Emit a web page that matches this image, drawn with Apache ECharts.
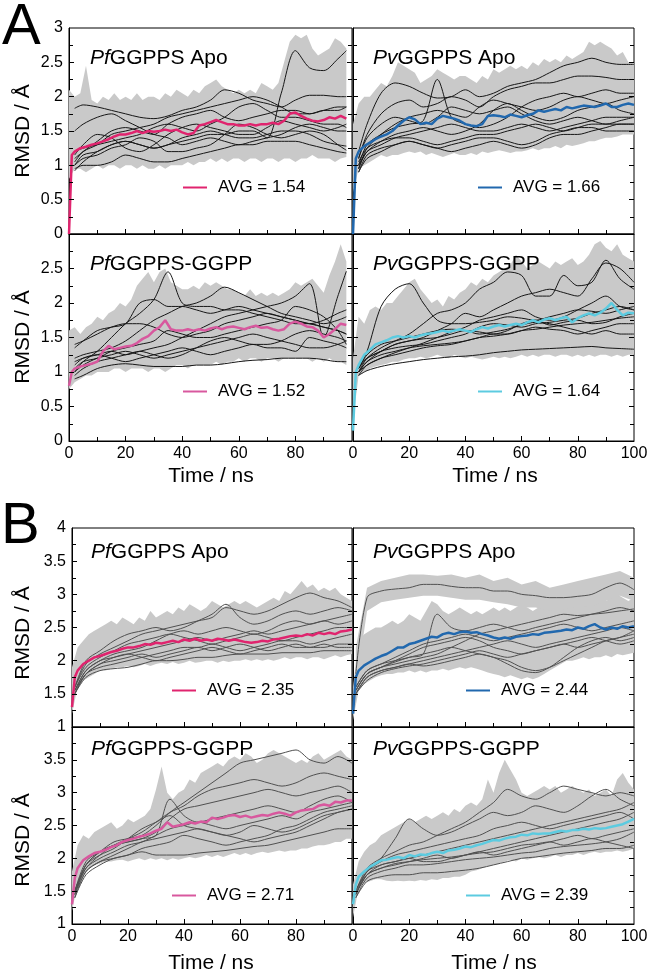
<!DOCTYPE html>
<html>
<head>
<meta charset="utf-8">
<script src="https://cdn.jsdelivr.net/npm/echarts@6.0.0/dist/echarts.min.js"></script>
<style>
html,body{margin:0;padding:0;background:#fff}
#chart{width:654px;height:975px}
</style>
</head>
<body>
<div id="chart"></div>
<script>
var FONT = '"Liberation Sans", Arial, sans-serif';
var GRAY = '#c9c9c9';

// tick positions
var xTicks = [0,10,20,30,40,50,60,70,80,90,100];
var yTicksA = [0,0.25,0.5,0.75,1,1.25,1.5,1.75,2,2.25,2.5,2.75,3];
var yTicksB = [1,1.25,1.5,1.75,2,2.25,2.5,2.75,3,3.25,3.5,3.75,4];

// time grids (ns)
var tLineA = [2,5,10,15,20,25,30,35,40,45,50,55,60,65,70,75,80,85,90,95,98];
var tLineA2 = [2,5,10,15,20,25,30,35,40,45,50,55,60,65,70,75,80,85,90,95,100];
var tLineB = [1,5,10,15,20,25,30,35,40,45,50,55,60,65,70,75,80,85,90,95,100];
var tAvg98 = [0,1], tAvg100 = [0,1], tBand98 = [], tBand100 = [];
for (var t = 2; t <= 98; t += 2) tAvg98.push(t);
for (var t = 2; t <= 100; t += 2) tAvg100.push(t);
for (var t = 0; t <= 98; t += 2) tBand98.push(t);
for (var t = 0; t <= 100; t += 2) tBand100.push(t);

// ---------- A: PfGGPPS Apo ----------
var a1Avg = [0,1.15,1.2,1.25,1.27,1.3,1.32,1.35,1.38,1.42, 1.45,1.45,1.47,1.5,1.47,1.5,1.49,1.5,1.52,1.5, 1.52,1.48,1.45,1.47,1.58,1.6,1.63,1.66,1.63,1.6, 1.6,1.58,1.58,1.6,1.58,1.6,1.6,1.62,1.6,1.65, 1.75,1.77,1.72,1.68,1.65,1.64,1.66,1.7,1.68,1.72, 1.68];
var a1Hi = [2.1,2.0,2.05,2.45,1.95,1.9,2.0,1.95,2.05,1.95, 2.0,1.95,2.05,1.95,2.0,2.0,1.95,2.05,2.0,2.1, 2.05,2.0,2.1,2.05,2.15,2.2,2.25,2.15,2.1,2.05, 2.1,2.05,2.1,2.05,2.2,2.15,2.1,2.2,2.5,2.8, 2.9,2.85,2.9,2.7,2.6,2.65,2.7,2.85,2.8,2.7];
var a1Lo = [0.8,0.95,0.95,0.9,0.95,1.0,0.95,1.0,1.0,0.95, 1.0,1.0,0.95,1.0,0.95,0.95,1.0,0.95,1.0,1.0, 1.0,1.05,1.0,1.05,1.05,1.1,1.05,1.1,1.05,1.1, 1.1,1.05,1.1,1.1,1.05,1.1,1.1,1.05,1.1,1.1, 1.05,1.1,1.1,1.15,1.1,1.1,1.1,1.05,1.1,1.12];
var a1Lines = [
  [1.83,1.88,1.85,1.8,1.75,1.7,1.68,1.72,1.8,1.85,1.95,2.1,2.05,1.95,1.9,1.85,1.95,2.02,2.02,2.0,2.0],
  [1.0,1.15,1.2,1.3,1.35,1.3,1.25,1.3,1.35,1.4,1.45,1.45,1.5,1.5,1.4,2.05,2.67,2.42,2.38,2.55,2.67],
  [0.95,1.0,1.0,1.05,1.15,1.1,1.05,1.05,1.1,1.15,1.2,1.25,1.3,1.3,1.35,1.35,1.35,1.3,1.25,1.2,1.18],
  [1.1,1.2,1.35,1.5,1.55,1.5,1.45,1.6,1.7,1.75,1.8,1.7,1.65,1.7,1.75,1.8,1.8,1.75,1.8,1.85,1.85],
  [1.5,1.6,1.7,1.75,1.65,1.55,1.45,1.4,1.3,1.35,1.4,1.35,1.3,1.35,1.4,1.45,1.55,1.6,1.55,1.5,1.5],
  [1.0,1.1,1.15,1.25,1.3,1.4,1.35,1.2,1.2,1.25,1.3,1.45,1.6,1.55,1.45,1.4,1.45,1.5,1.45,1.3,1.22],
  [1.2,1.25,1.3,1.35,1.4,1.45,1.55,1.6,1.55,1.5,1.6,1.7,1.85,1.9,1.8,1.7,1.7,1.65,1.6,1.6,1.55],
  [1.15,1.3,1.45,1.4,1.25,1.2,1.3,1.45,1.55,1.6,1.55,1.5,1.45,1.45,1.55,1.65,1.6,1.55,1.5,1.55,1.6],
  [0.92,1.05,1.2,1.3,1.35,1.3,1.25,1.3,1.4,1.45,1.5,1.45,1.4,1.4,1.45,1.5,1.5,1.45,1.35,1.3,1.28],
  [1.05,1.2,1.3,1.45,1.5,1.55,1.6,1.7,1.75,1.8,1.85,1.9,1.95,2.0,1.95,1.85,1.75,1.75,1.8,1.8,1.85]
];

// ---------- A: PvGGPPS Apo ----------
var a2Avg = [0,1.1,1.2,1.28,1.33,1.38,1.42,1.45,1.5,1.58, 1.65,1.7,1.67,1.6,1.62,1.6,1.68,1.72,1.7,1.68, 1.65,1.6,1.58,1.57,1.6,1.72,1.73,1.72,1.7,1.74, 1.72,1.7,1.73,1.75,1.8,1.78,1.8,1.82,1.8,1.85, 1.83,1.85,1.87,1.86,1.85,1.87,1.9,1.85,1.85,1.88, 1.9,1.88];
var a2Hi = [1.6,1.9,2.0,2.0,2.1,2.2,2.15,2.3,2.5,2.45, 2.4,2.35,2.2,2.25,2.3,2.4,2.35,2.3,2.25,2.3, 2.3,2.25,2.2,2.3,2.25,2.4,2.35,2.4,2.45,2.4, 2.45,2.4,2.5,2.45,2.55,2.5,2.55,2.5,2.6,2.55, 2.6,2.65,2.8,2.75,2.8,2.75,2.7,2.6,2.65,2.5, 2.5];
var a2Lo = [0.6,0.95,1.0,1.05,1.1,1.15,1.12,1.15,1.15,1.18, 1.2,1.18,1.2,1.15,1.18,1.15,1.12,1.15,1.18,1.15, 1.15,1.18,1.15,1.2,1.18,1.2,1.22,1.2,1.18,1.2, 1.2,1.22,1.25,1.22,1.25,1.25,1.28,1.25,1.3,1.28, 1.3,1.32,1.35,1.35,1.38,1.4,1.4,1.42,1.45,1.45, 1.45];
var a2Lines = [
  [1.2,1.6,2.05,2.2,2.15,2.05,1.98,2.0,2.1,2.0,2.05,2.15,2.2,2.25,2.35,2.45,2.5,2.56,2.5,2.47,2.47],
  [1.1,1.45,1.75,1.9,1.95,1.85,1.9,2.0,1.95,1.85,2.0,2.1,2.15,2.2,2.2,2.25,2.3,2.3,2.28,2.25,2.25],
  [1.0,1.3,1.45,1.55,1.6,1.65,2.25,1.7,1.6,1.55,1.6,1.7,1.85,1.95,2.0,2.05,2.0,2.05,2.1,2.05,2.05],
  [0.95,1.25,1.45,1.6,1.7,1.75,1.8,1.75,1.7,1.85,1.95,1.9,1.85,1.8,1.85,1.95,2.0,1.95,1.9,1.95,2.0],
  [1.0,1.2,1.35,1.45,1.5,1.55,1.5,1.45,1.5,1.6,1.8,1.9,1.8,1.7,1.65,1.7,1.8,1.85,1.9,1.8,1.75],
  [0.95,1.2,1.3,1.4,1.45,1.5,1.55,1.6,1.55,1.5,1.5,1.55,1.6,1.55,1.5,1.55,1.6,1.65,1.7,1.7,1.7],
  [1.05,1.25,1.35,1.4,1.4,1.35,1.3,1.35,1.4,1.45,1.45,1.5,1.55,1.6,1.55,1.5,1.55,1.6,1.6,1.6,1.6],
  [0.9,1.15,1.25,1.3,1.35,1.3,1.25,1.3,1.35,1.4,1.4,1.35,1.3,1.35,1.45,1.5,1.55,1.55,1.5,1.5,1.5],
  [0.9,1.1,1.2,1.3,1.35,1.3,1.25,1.2,1.25,1.3,1.35,1.3,1.25,1.3,1.4,1.45,1.45,1.5,1.55,1.6,1.6],
  [1.1,1.4,1.6,1.7,1.65,1.6,1.7,1.85,1.8,1.75,1.8,1.85,1.75,1.65,1.6,1.65,1.7,1.65,1.6,1.65,1.7]
];

// ---------- A: PfGGPPS-GGPP ----------
var a3Avg = [0.8,1.0,1.05,1.08,1.1,1.12,1.15,1.3,1.38,1.33, 1.35,1.37,1.38,1.42,1.48,1.52,1.6,1.65,1.75,1.62, 1.6,1.6,1.62,1.6,1.62,1.6,1.63,1.65,1.62,1.65, 1.66,1.64,1.62,1.65,1.67,1.64,1.65,1.62,1.6,1.62, 1.7,1.73,1.7,1.66,1.65,1.6,1.5,1.55,1.62,1.7, 1.68];
var a3Hi = [1.6,1.65,1.55,1.65,1.7,1.8,1.75,1.85,1.9,2.0, 1.95,2.05,2.25,2.35,2.45,2.3,2.45,2.5,2.3,2.25, 2.2,2.2,2.25,2.2,2.3,2.25,2.3,2.25,2.2,2.2, 2.15,2.1,2.2,2.1,2.15,2.1,2.15,2.1,2.15,2.2, 2.3,2.25,2.3,2.35,2.25,2.15,2.4,2.6,2.85,2.6];
var a3Lo = [0.75,0.85,0.9,0.95,0.95,1.0,1.0,1.0,1.05,1.05, 1.0,1.05,1.05,1.05,1.0,1.05,1.05,1.0,1.05,1.1, 1.1,1.05,1.1,1.1,1.1,1.1,1.15,1.1,1.15,1.15, 1.2,1.15,1.2,1.2,1.15,1.2,1.2,1.15,1.2,1.2, 1.2,1.2,1.2,1.15,1.2,1.15,1.2,1.15,1.15,1.1];
var a3Lines = [
  [1.0,1.15,1.3,1.5,1.7,1.85,2.05,2.45,2.0,1.95,1.95,1.9,1.9,1.85,1.8,1.75,1.7,1.7,1.65,1.6,1.55],
  [1.2,1.25,1.3,1.35,1.45,1.6,1.75,1.85,1.95,2.0,2.1,2.23,2.15,2.05,1.95,1.85,1.8,1.75,1.7,1.75,1.8],
  [1.15,1.2,1.25,1.3,1.25,1.3,1.35,1.4,1.5,1.6,1.7,1.8,1.85,1.9,1.95,2.0,2.1,2.28,1.5,2.1,2.46],
  [1.35,1.45,1.6,1.65,1.7,2.0,2.05,1.95,1.95,1.9,1.85,1.9,1.95,1.9,1.85,1.8,1.75,1.7,1.65,1.6,1.55],
  [1.4,1.45,1.55,1.65,1.7,1.7,1.65,1.55,1.5,1.55,1.6,1.7,1.75,1.8,1.85,1.8,1.75,1.7,1.75,1.85,1.9],
  [0.9,0.95,1.05,1.1,1.12,1.1,1.08,1.08,1.08,1.1,1.1,1.12,1.15,1.17,1.18,1.2,1.2,1.2,1.18,1.15,1.15],
  [1.0,1.1,1.2,1.25,1.3,1.25,1.2,1.25,1.3,1.35,1.4,1.45,1.5,1.55,1.5,1.45,1.4,1.35,1.35,1.4,1.45],
  [1.1,1.2,1.25,1.2,1.15,1.2,1.25,1.3,1.35,1.3,1.25,1.3,1.35,1.4,1.35,1.35,1.3,1.5,1.45,1.4,1.35],
  [0.95,1.05,1.15,1.2,1.25,1.3,1.25,1.2,1.25,1.35,1.45,1.5,1.45,1.4,1.4,1.45,1.55,1.6,1.55,1.5,1.45],
  [1.05,1.15,1.2,1.3,1.35,1.4,1.45,1.6,1.55,1.5,1.5,1.55,1.6,1.65,1.7,1.75,1.95,1.9,1.8,1.6,1.4]
];

// ---------- A: PvGGPPS-GGPP ----------
var a4Avg = [0.15,1.0,1.1,1.25,1.32,1.4,1.43,1.46,1.5,1.52, 1.5,1.52,1.5,1.53,1.55,1.56,1.58,1.6,1.58,1.6, 1.62,1.6,1.58,1.62,1.65,1.63,1.66,1.68,1.66,1.68, 1.7,1.68,1.72,1.75,1.72,1.76,1.78,1.75,1.78,1.8, 1.72,1.78,1.82,1.85,1.82,1.86,1.92,2.0,1.9,1.82, 1.86,1.85];
var a4Hi = [1.2,1.8,1.7,1.9,1.95,1.9,2.0,2.0,2.1,2.2, 2.3,2.35,2.2,2.1,2.0,2.05,1.95,2.1,2.05,2.15, 2.2,2.3,2.25,2.35,2.3,2.4,2.45,2.5,2.55,2.7, 2.6,2.5,2.55,2.6,2.55,2.5,2.6,2.55,2.6,2.65, 2.55,2.6,2.7,2.85,2.9,2.8,2.75,2.85,2.7,2.65, 2.6];
var a4Lo = [0.3,0.95,1.0,1.05,1.08,1.1,1.12,1.15,1.15,1.18, 1.2,1.2,1.22,1.2,1.22,1.25,1.22,1.2,1.25,1.22, 1.2,1.22,1.2,1.18,1.2,1.22,1.2,1.22,1.2,1.22, 1.25,1.22,1.25,1.22,1.25,1.25,1.22,1.25,1.25,1.22, 1.25,1.22,1.25,1.22,1.25,1.25,1.22,1.25,1.22,1.25, 1.25];
var a4Lines = [
  [1.05,1.3,1.95,2.2,2.28,2.0,1.75,1.7,1.7,1.72,1.75,1.8,1.78,1.75,1.8,1.85,1.9,1.88,1.85,1.9,1.95],
  [1.0,1.2,1.35,1.45,1.55,1.7,1.85,1.9,2.0,2.2,2.3,2.45,2.4,2.1,2.1,2.4,2.25,2.3,2.62,2.35,2.2],
  [1.0,1.15,1.3,1.4,1.45,1.5,1.6,1.7,1.85,1.8,1.9,2.0,2.1,2.15,2.2,2.15,2.1,2.35,2.58,2.5,2.3],
  [0.95,1.02,1.08,1.12,1.15,1.18,1.2,1.22,1.23,1.25,1.28,1.3,1.32,1.33,1.34,1.35,1.36,1.37,1.35,1.34,1.33],
  [1.1,1.2,1.3,1.35,1.38,1.4,1.45,1.5,1.55,1.65,1.7,1.68,1.65,1.7,1.72,1.75,1.78,1.85,1.9,1.95,1.9],
  [1.05,1.25,1.4,1.45,1.5,1.55,1.6,1.62,1.6,1.55,1.58,1.62,1.68,1.72,1.7,1.65,1.6,1.55,1.6,1.55,1.55],
  [1.0,1.15,1.25,1.3,1.35,1.38,1.4,1.42,1.45,1.5,1.52,1.55,1.6,1.62,1.65,1.68,1.7,1.72,1.75,1.78,1.8],
  [1.05,1.2,1.3,1.4,1.45,1.48,1.5,1.55,1.6,1.58,1.55,1.6,1.7,1.75,1.68,1.72,1.75,1.7,1.72,1.8,1.85],
  [1.0,1.1,1.2,1.28,1.35,1.42,1.5,1.58,1.65,1.75,1.8,1.85,1.9,1.8,1.75,1.8,1.9,2.0,2.1,1.95,1.9],
  [0.95,1.1,1.2,1.25,1.3,1.35,1.38,1.4,1.45,1.5,1.55,1.55,1.6,1.65,1.62,1.6,1.55,1.6,1.65,1.7,1.7]
];

// ---------- B: PfGGPPS Apo ----------
var b1Avg = [1.3,1.75,1.85,1.95,2.0,2.05,2.07,2.1,2.13,2.15, 2.18,2.2,2.2,2.22,2.25,2.24,2.27,2.26,2.28,2.3, 2.28,2.32,2.3,2.33,2.3,2.32,2.3,2.33,2.32,2.3, 2.32,2.3,2.28,2.27,2.28,2.3,2.29,2.32,2.33,2.35, 2.37,2.38,2.37,2.4,2.38,2.42,2.4,2.42,2.4,2.44, 2.45,2.47];
var b1Hi = [1.9,2.2,2.3,2.4,2.45,2.5,2.55,2.6,2.55,2.65, 2.6,2.55,2.65,2.6,2.75,2.65,2.7,2.75,2.7,2.8, 2.75,2.85,2.8,2.75,2.8,2.9,2.85,2.8,2.85,2.9, 2.85,2.9,2.85,2.8,2.85,2.9,2.95,2.9,3.05,3.0, 3.1,3.2,3.1,3.15,3.05,3.1,3.05,3.1,3.0,2.95, 2.9];
var b1Lo = [1.2,1.6,1.7,1.75,1.8,1.85,1.85,1.88,1.9,1.9, 1.92,1.9,1.92,1.95,1.92,1.95,1.97,1.95,1.98,1.95, 1.97,2.0,1.97,1.98,2.0,2.0,1.97,2.0,1.98,2.0, 2.0,2.02,2.0,2.02,2.0,2.02,2.0,2.02,2.05,2.02, 2.05,2.05,2.02,2.05,2.05,2.02,2.05,2.08,2.05,2.08, 2.1];
var b1Lines = [
  [1.6,1.95,2.1,2.2,2.3,2.4,2.45,2.5,2.55,2.6,2.65,2.8,2.75,2.7,2.75,2.85,2.95,3.02,2.95,2.9,2.8],
  [1.6,2.0,2.15,2.3,2.4,2.45,2.5,2.45,2.5,2.6,2.7,2.85,2.65,2.55,2.6,2.7,2.75,2.7,2.75,2.8,2.75],
  [1.55,1.85,2.0,2.1,2.15,2.2,2.3,2.4,2.45,2.4,2.45,2.5,2.45,2.4,2.45,2.55,2.6,2.55,2.6,2.55,2.6],
  [1.5,1.75,1.85,1.88,1.9,1.95,2.0,2.0,2.02,2.05,2.05,2.08,2.1,2.1,2.1,2.12,2.12,2.12,2.15,2.15,2.15],
  [1.55,1.8,1.95,2.0,2.05,2.1,2.05,2.1,2.15,2.2,2.15,2.2,2.25,2.2,2.15,2.2,2.25,2.2,2.2,2.25,2.25],
  [1.6,1.9,2.05,2.15,2.25,2.3,2.35,2.4,2.35,2.3,2.25,2.3,2.35,2.4,2.35,2.3,2.35,2.4,2.45,2.5,2.5],
  [1.5,1.8,1.9,1.95,2.0,2.05,2.1,2.15,2.2,2.2,2.25,2.2,2.15,2.2,2.25,2.3,2.3,2.25,2.3,2.35,2.4],
  [1.55,1.85,2.0,2.05,2.1,2.15,2.2,2.25,2.3,2.35,2.3,2.35,2.4,2.45,2.4,2.45,2.5,2.55,2.6,2.65,2.7],
  [1.5,1.8,1.95,2.05,2.1,2.05,2.0,2.05,2.1,2.15,2.2,2.15,2.1,2.15,2.2,2.25,2.2,2.2,2.25,2.2,2.2]
];

// ---------- B: PvGGPPS Apo ----------
var b2Avg = [1.2,1.75,1.85,1.93,1.98,2.03,2.07,2.1,2.15,2.2, 2.2,2.25,2.27,2.3,2.33,2.36,2.35,2.4,2.42,2.4, 2.43,2.44,2.42,2.43,2.4,2.38,2.35,2.33,2.35,2.33, 2.36,2.37,2.38,2.4,2.39,2.42,2.43,2.44,2.45,2.47, 2.46,2.5,2.48,2.52,2.55,2.5,2.47,2.5,2.48,2.52, 2.5,2.52];
var b2Hi = [1.6,2.3,2.4,2.45,2.5,2.5,2.55,2.6,2.55,2.6, 2.7,2.65,2.6,2.75,2.9,2.85,2.75,2.7,2.75,2.8, 2.75,2.7,2.75,2.7,2.75,2.8,2.75,2.8,2.75,2.8, 2.85,2.8,2.75,2.8,2.85,2.8,2.85,2.9,2.85,2.9, 2.95,2.9,2.95,3.0,2.95,2.9,2.95,3.0,2.95,2.9, 2.95];
var b2Lo = [1.1,1.55,1.65,1.7,1.75,1.78,1.8,1.8,1.82,1.82, 1.85,1.82,1.85,1.82,1.85,1.85,1.88,1.85,1.88,1.9, 1.88,1.9,1.88,1.85,1.82,1.8,1.78,1.75,1.78,1.75, 1.72,1.75,1.72,1.75,1.8,1.85,1.9,1.95,2.0,2.0, 2.02,2.05,2.02,2.05,2.05,2.08,2.05,2.1,2.08,2.1, 2.12];
// separate upper trajectory of PvGGPPS Apo (raw spread, on tLineB)
var b2TopHi = [2.2,3.1,3.2,3.25,3.3,3.3,3.28,3.3,3.25,3.3,3.2,3.25,3.15,3.2,3.1,3.15,3.2,3.25,3.3,3.35,3.25];
var b2TopLo = [1.6,2.75,2.88,2.92,2.95,2.98,2.98,2.95,2.92,2.92,2.88,2.85,2.8,2.8,2.75,2.78,2.8,2.82,2.9,2.98,2.9];
var b2Lines = [
  [1.8,2.95,3.05,3.08,3.1,3.15,3.15,3.12,3.1,3.1,3.05,3.05,3.0,2.98,2.95,2.95,2.97,3.0,3.1,3.17,3.07],
  [1.6,1.85,1.95,2.0,2.05,2.1,2.7,2.5,2.45,2.5,2.55,2.5,2.45,2.5,2.55,2.6,2.65,2.7,2.75,2.8,2.75],
  [1.55,1.8,1.9,1.95,2.0,2.05,2.1,2.2,2.3,2.4,2.45,2.5,2.55,2.6,2.65,2.7,2.68,2.7,2.72,2.75,2.78],
  [1.5,1.75,1.85,1.9,1.95,1.92,1.95,2.0,2.05,2.1,2.05,2.0,1.9,1.85,1.9,2.0,2.1,2.2,2.3,2.35,2.4],
  [1.55,1.8,1.9,1.98,2.05,2.1,2.15,2.2,2.15,2.1,2.05,1.95,1.85,1.82,1.9,2.05,2.2,2.3,2.35,2.3,2.35],
  [1.6,1.85,1.95,2.05,2.15,2.25,2.3,2.35,2.4,2.35,2.3,2.35,2.4,2.45,2.5,2.55,2.5,2.45,2.5,2.55,2.6],
  [1.5,1.75,1.85,1.9,1.95,2.0,2.05,2.1,2.15,2.2,2.25,2.3,2.25,2.2,2.25,2.3,2.35,2.4,2.45,2.5,2.45],
  [1.55,1.8,1.9,2.0,2.1,2.2,2.25,2.3,2.35,2.3,2.2,2.15,2.1,2.15,2.2,2.25,2.3,2.35,2.3,2.25,2.3],
  [1.5,1.7,1.82,1.88,1.92,1.95,2.0,2.05,2.1,2.15,2.1,2.05,2.1,2.15,2.2,2.25,2.2,2.25,2.3,2.35,2.45]
];

// ---------- B: PfGGPPS-GGPP ----------
var b3Avg = [1.3,1.7,1.85,1.97,2.03,2.08,2.1,2.13,2.17,2.2, 2.25,2.28,2.3,2.33,2.35,2.38,2.42,2.45,2.55,2.48, 2.5,2.52,2.55,2.53,2.56,2.55,2.62,2.6,2.62,2.65, 2.66,2.63,2.65,2.62,2.64,2.66,2.65,2.68,2.7,2.68, 2.65,2.7,2.73,2.74,2.75,2.8,2.82,2.8,2.86,2.85, 2.88,2.88];
var b3Hi = [1.8,2.2,2.35,2.3,2.4,2.45,2.5,2.55,2.45,2.5, 2.6,2.55,2.6,2.65,2.75,3.05,3.4,3.0,2.9,3.0, 3.05,3.2,3.15,3.3,3.35,3.4,3.45,3.4,3.5,3.55, 3.5,3.6,3.55,3.45,3.5,3.6,3.65,3.6,3.55,3.5, 3.45,3.5,3.45,3.55,3.6,3.5,3.55,3.6,3.65,3.55, 3.5];
var b3Lo = [1.2,1.6,1.75,1.85,1.9,1.92,1.95,1.95,1.97,1.98, 1.95,1.98,2.0,1.97,2.0,1.98,2.0,1.97,2.0,1.98, 2.0,2.02,2.0,2.02,2.05,2.02,2.05,2.02,2.05,2.08, 2.05,2.08,2.05,2.08,2.1,2.08,2.1,2.12,2.1,2.12, 2.12,2.15,2.15,2.18,2.2,2.2,2.22,2.25,2.25,2.3, 2.3];
var b3Lines = [
  [1.5,1.9,2.1,2.25,2.3,2.35,2.5,2.7,2.85,3.0,3.15,3.3,3.45,3.5,3.55,3.6,3.65,3.5,3.45,3.55,3.45],
  [1.5,1.85,2.05,2.2,2.3,2.4,2.55,2.7,2.8,2.95,3.05,3.1,3.15,3.2,3.15,3.1,3.15,3.25,3.3,3.25,3.2],
  [1.45,1.9,2.1,2.2,2.25,2.3,2.4,2.6,2.75,2.8,2.85,2.9,2.95,3.0,3.05,3.0,2.95,3.0,3.05,3.1,3.0],
  [1.4,1.8,1.95,2.0,2.05,2.1,2.05,2.05,2.05,2.08,2.1,2.12,2.15,2.18,2.2,2.25,2.3,2.35,2.4,2.45,2.45],
  [1.5,1.9,2.05,2.15,2.3,2.45,2.55,2.65,2.5,2.45,2.4,2.35,2.3,2.25,2.3,2.35,2.4,2.5,2.6,2.7,2.75],
  [1.45,1.85,2.0,2.1,2.2,2.25,2.35,2.45,2.5,2.55,2.5,2.45,2.5,2.55,2.6,2.65,2.6,2.7,2.75,2.8,2.85],
  [1.5,1.95,2.1,2.2,2.25,2.3,2.35,2.9,2.65,2.55,2.6,2.65,2.7,2.75,2.8,2.75,2.7,2.8,2.9,2.95,2.85],
  [1.45,1.8,1.95,2.05,2.15,2.25,2.3,2.35,2.4,2.45,2.4,2.35,2.4,2.5,2.45,2.4,2.45,2.55,2.65,2.7,2.75],
  [1.4,1.75,1.9,2.0,2.05,2.15,2.2,2.25,2.35,2.3,2.25,2.2,2.25,2.3,2.35,2.45,2.5,2.6,2.7,2.75,2.8]
];

// ---------- B: PvGGPPS-GGPP ----------
var b4Avg = [1.3,1.6,1.72,1.8,1.87,1.92,1.97,1.98,2.0,2.02, 2.0,2.05,2.03,2.06,2.05,2.08,2.1,2.08,2.12,2.13, 2.15,2.18,2.17,2.2,2.22,2.25,2.28,2.27,2.3,2.32, 2.33,2.36,2.35,2.38,2.37,2.38,2.38,2.4,2.42,2.41, 2.43,2.43,2.45,2.44,2.46,2.45,2.46,2.48,2.5,2.52, 2.56,2.6];
var b4Hi = [1.6,1.95,2.1,2.2,2.25,2.35,2.4,2.45,2.5,2.55, 2.6,2.55,2.6,2.65,2.6,2.65,2.7,2.65,2.75,2.7, 2.8,2.85,2.8,2.9,3.2,3.0,3.3,3.5,3.35,3.2, 3.0,2.95,3.0,3.05,3.1,3.05,3.1,3.0,3.05,3.1, 3.05,3.0,3.05,2.95,3.0,3.05,2.95,3.2,3.3,3.15, 3.05];
var b4Lo = [1.1,1.55,1.62,1.65,1.68,1.68,1.66,1.65,1.66,1.65, 1.66,1.65,1.67,1.66,1.68,1.67,1.7,1.7,1.72,1.72, 1.75,1.8,1.82,1.85,1.88,1.9,1.92,1.95,1.98,1.95, 2.0,1.98,2.0,2.02,2.0,2.02,2.05,2.02,2.05,2.05, 2.08,2.05,2.08,2.1,2.08,2.1,2.1,2.12,2.1,2.12, 2.15];
var b4Lines = [
  [1.5,1.85,2.0,2.1,2.2,2.25,2.35,2.45,2.55,2.7,2.85,3.05,2.95,2.9,3.0,3.1,3.05,3.0,2.95,3.0,2.95],
  [1.45,1.8,2.0,2.3,2.6,2.45,2.35,2.4,2.5,2.6,2.7,2.65,2.7,2.8,2.75,2.7,2.8,2.95,3.05,2.9,2.8],
  [1.4,1.65,1.72,1.75,1.75,1.78,1.78,1.8,1.82,1.85,1.9,1.95,2.0,2.02,2.05,2.08,2.1,2.12,2.15,2.15,2.2],
  [1.45,1.75,1.85,1.9,1.95,2.0,2.05,2.0,2.05,2.1,2.15,2.2,2.25,2.3,2.35,2.4,2.45,2.5,2.55,2.6,2.7],
  [1.5,1.8,1.9,1.95,2.0,2.05,2.1,2.15,2.2,2.25,2.3,2.35,2.4,2.45,2.5,2.55,2.6,2.65,2.7,2.75,2.85],
  [1.45,1.75,1.85,1.92,1.95,1.98,2.0,2.02,2.05,2.08,2.1,2.15,2.2,2.22,2.25,2.2,2.25,2.3,2.25,2.2,2.15],
  [1.5,1.8,1.95,2.05,2.1,2.15,2.2,2.25,2.3,2.35,2.45,2.5,2.55,2.5,2.45,2.5,2.55,2.6,2.65,2.7,2.6],
  [1.45,1.75,1.9,1.95,2.0,1.95,1.95,2.0,2.05,2.1,2.05,2.1,2.15,2.2,2.25,2.3,2.35,2.3,2.35,2.4,2.45],
  [1.4,1.7,1.8,1.85,1.9,1.9,1.92,1.95,1.98,2.0,2.02,2.05,2.08,2.1,2.15,2.18,2.2,2.22,2.25,2.3,2.4]
];

var PINK = '#e0246e', BLUE = '#2168ae', MAUVE = '#d8589e', CYAN = '#5ccbe0';
var DARK_A = '#161616', DARK_B = '#505050';

var panels = [
  {title:'{i|Pf}GGPPS Apo', tx:90, ty:58, box:[69,28,283,206], y:[0,3], yTicks:yTicksA, col:0, row:0, tLine:tLineA, lines:a1Lines, lc:DARK_A,
   tAvg:tAvg98, avg:a1Avg, name:'AVG = 1.54', color:PINK, bands:[[tBand98,a1Lo,a1Hi]], leg:[183,189]},
  {title:'{i|Pv}GGPPS Apo', tx:373, ty:58, box:[353,28,281,206], y:[0,3], yTicks:yTicksA, col:1, row:0, tLine:tLineA2, lines:a2Lines, lc:DARK_A,
   tAvg:tAvg100, avg:a2Avg, name:'AVG = 1.66', color:BLUE, bands:[[tBand100,a2Lo,a2Hi]], leg:[478,189]},
  {title:'{i|Pf}GGPPS-GGPP', tx:90, ty:264, box:[69,234,283,207], y:[0,3], yTicks:yTicksA, col:0, row:1, tLine:tLineA, lines:a3Lines, lc:DARK_A,
   tAvg:tAvg98, avg:a3Avg, name:'AVG = 1.52', color:MAUVE, bands:[[tBand98,a3Lo,a3Hi]], leg:[183,393]},
  {title:'{i|Pv}GGPPS-GGPP', tx:373, ty:264, box:[353,234,281,207], y:[0,3], yTicks:yTicksA, col:1, row:1, tLine:tLineA2, lines:a4Lines, lc:DARK_A,
   tAvg:tAvg100, avg:a4Avg, name:'AVG = 1.64', color:CYAN, bands:[[tBand100,a4Lo,a4Hi]], leg:[478,393]},
  {title:'{i|Pf}GGPPS Apo', tx:91, ty:552, box:[72,528,280,199], y:[1,4], yTicks:yTicksB, col:0, row:0, tLine:tLineB, lines:b1Lines, lc:DARK_B,
   tAvg:tAvg100, avg:b1Avg, name:'AVG = 2.35', color:PINK, bands:[[tBand100,b1Lo,b1Hi]], leg:[172,692]},
  {title:'{i|Pv}GGPPS Apo', tx:373, ty:552, box:[353,528,281,199], y:[1,4], yTicks:yTicksB, col:1, row:0, tLine:tLineB, lines:b2Lines, lc:DARK_B,
   tAvg:tAvg100, avg:b2Avg, name:'AVG = 2.44', color:BLUE, bands:[[tBand100,b2Lo,b2Hi],[tLineB,b2TopLo,b2TopHi]], leg:[466,692]},
  {title:'{i|Pf}GGPPS-GGPP', tx:91, ty:749, box:[72,727,280,197], y:[1,4], yTicks:yTicksB, col:0, row:1, tLine:tLineB, lines:b3Lines, lc:DARK_B,
   tAvg:tAvg100, avg:b3Avg, name:'AVG = 2.71', color:MAUVE, bands:[[tBand100,b3Lo,b3Hi]], leg:[172,897]},
  {title:'{i|Pv}GGPPS-GGPP', tx:373, ty:749, box:[353,727,281,197], y:[1,4], yTicks:yTicksB, col:1, row:1, tLine:tLineB, lines:b4Lines, lc:DARK_B,
   tAvg:tAvg100, avg:b4Avg, name:'AVG = 2.39', color:CYAN, bands:[[tBand100,b4Lo,b4Hi]], leg:[466,897]}
];

function pairs(t, v) {
  var out = [];
  var n = Math.min(t.length, v.length);
  if (t.length !== v.length) console.log('length mismatch', t.length, v.length);
  for (var i = 0; i < n; i++) out.push([t[i], v[i]]);
  return out;
}

// grey spread of the raw trajectories as a polygon between lower and upper edge
function bandRender(params, api) {
  if (params.dataIndex !== 0) return null;
  var n = params.dataInsideLength;
  var top = [], bot = [];
  for (var i = 0; i < n; i++) {
    var x = api.value(0, i);
    top.push(api.coord([x, api.value(2, i)]));
    bot.unshift(api.coord([x, api.value(1, i)]));
  }
  return {type: 'polygon', shape: {points: top.concat(bot)}, style: {fill: GRAY}, silent: true};
}

// inward tick marks as short segments (lines series), lengths converted from px to axis units
function tickSegments(p) {
  var w = p.box[2], h = p.box[3];
  var ux = 100 / w, uy = (p.y[1] - p.y[0]) / h;
  var segs = [];
  xTicks.forEach(function (v) {
    var len = v % 20 === 0 ? 5 : 4;
    if (v === 0 || v === 100) return;
    segs.push({coords: [[v, p.y[0]], [v, p.y[0] + len * uy]]});
  });
  p.yTicks.forEach(function (v) {
    var len = (v * 2) % 1 === 0 ? 5 : 4;
    if (v === p.y[0] || v === p.y[1]) return;
    segs.push({coords: [[0, v], [len * ux, v]]});
    segs.push({coords: [[100, v], [100 - len * ux, v]]});
  });
  return segs;
}

var myChart = echarts.init(document.getElementById('chart'), null, {renderer: 'canvas'});

var grids = [], xAxes = [], yAxes = [], series = [], legends = [], graphics = [];
var lblStyle = {color: '#000', fontSize: 16, fontFamily: FONT};

panels.forEach(function (p, gi) {
  grids.push({left: p.box[0], top: p.box[1], width: p.box[2], height: p.box[3],
    show: true, borderColor: '#000', borderWidth: 1, backgroundColor: 'transparent', outerBoundsMode: 'none'});

  xAxes.push({
    gridIndex: gi, type: 'value', min: 0, max: 100, interval: 20,
    axisLine: {show: true, onZero: false, lineStyle: {color: '#000', width: 1}},
    axisTick: {show: false}, minorTick: {show: false}, splitLine: {show: false},
    axisLabel: Object.assign({show: p.row === 1, margin: 5, showMinLabel: true, showMaxLabel: p.col === 1}, lblStyle)
  });
  yAxes.push({
    gridIndex: gi, type: 'value', min: p.y[0], max: p.y[1], interval: 0.5,
    axisLine: {show: true, onZero: false, lineStyle: {color: '#000', width: 1}},
    axisTick: {show: false}, minorTick: {show: false}, splitLine: {show: false},
    axisLabel: Object.assign({show: p.col === 0, margin: 6, showMinLabel: true, showMaxLabel: p.row === 0}, lblStyle)
  });

  p.bands.forEach(function (b) {
    series.push({type: 'custom', xAxisIndex: gi, yAxisIndex: gi, renderItem: bandRender, clip: true, silent: true, z: 1,
      data: b[0].map(function (tt, i) { return [tt, b[1][i], b[2][i]]; }),
      encode: {x: 0, y: [1, 2]}});
  });

  // smoothed trajectories
  p.lines.forEach(function (v) {
    series.push({type: 'line', xAxisIndex: gi, yAxisIndex: gi, data: pairs(p.tLine, v), symbol: 'none',
      smooth: 0.3, silent: true, lineStyle: {color: p.lc, width: 1}, z: 2});
  });

  // average
  series.push({type: 'line', name: p.name, xAxisIndex: gi, yAxisIndex: gi, data: pairs(p.tAvg, p.avg),
    symbol: 'none', color: p.color, lineStyle: {color: p.color, width: 2.5}, z: 3});

  // ticks
  series.push({type: 'lines', coordinateSystem: 'cartesian2d', xAxisIndex: gi, yAxisIndex: gi, silent: true, z: 4,
    data: tickSegments(p), lineStyle: {color: '#000', width: 1, opacity: 1, curveness: 0}});

  legends.push({data: [p.name], left: p.leg[0], top: p.leg[1] - 10, icon: 'rect', itemWidth: 24, itemHeight: 2,
    padding: 0, itemGap: 0, selectedMode: false,
    textStyle: {color: '#000', fontSize: 17, fontFamily: FONT, padding: [0, 0, 0, 6]}});

  graphics.push({type: 'text', x: p.tx, y: p.ty, silent: true, z: 100,
    style: {text: p.title, fill: '#000', fontSize: 21, fontFamily: FONT, verticalAlign: 'middle',
      rich: {i: {fontStyle: 'italic', fontSize: 21, fontFamily: FONT, fill: '#000'}}}});
});

// axis titles and block letters
[131, 337, 633, 840].forEach(function (cy) {
  graphics.push({type: 'text', x: 23, y: cy, rotation: Math.PI / 2, silent: true, z: 100,
    style: {text: 'RMSD / Å', fill: '#000', fontSize: 21, fontFamily: FONT, align: 'center', verticalAlign: 'middle'}});
});
[[211, 476], [495, 476], [211, 963], [494, 963]].forEach(function (c) {
  graphics.push({type: 'text', x: c[0], y: c[1], silent: true, z: 100,
    style: {text: 'Time / ns', fill: '#000', fontSize: 21, fontFamily: FONT, align: 'center', verticalAlign: 'middle'}});
});
graphics.push({type: 'text', x: 2, y: 28, silent: true, z: 100,
  style: {text: 'A', fill: '#000', fontSize: 58, fontFamily: FONT, verticalAlign: 'middle'}});
graphics.push({type: 'text', x: 1, y: 527, silent: true, z: 100,
  style: {text: 'B', fill: '#000', fontSize: 58, fontFamily: FONT, verticalAlign: 'middle'}});

var option = {
  animation: false,
  backgroundColor: '#fff',
  grid: grids,
  xAxis: xAxes,
  yAxis: yAxes,
  legend: legends,
  graphic: graphics,
  series: series
};

myChart.setOption(option, true);
</script>
</body>
</html>
